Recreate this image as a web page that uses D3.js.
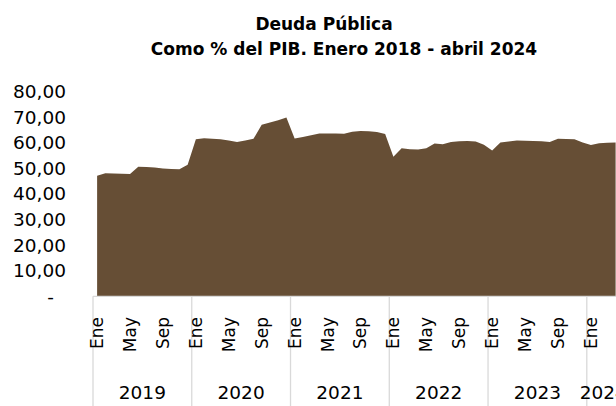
<!DOCTYPE html>
<html>
<head>
<meta charset="utf-8">
<script src="https://cdn.jsdelivr.net/npm/d3@7"></script>
<style>
  body { margin: 0; background: #fff; }
  text { font-family: "DejaVu Sans", sans-serif; fill: #000; }
</style>
</head>
<body>
<div id="chart"></div>
<script>
// data
var years = [2019, 2020, 2021, 2022, 2023, 2024];
var months = ['Ene', 'Feb', 'Mar', 'Abr', 'May', 'Jun', 'Jul', 'Ago', 'Sep', 'Oct', 'Nov', 'Dic'];
var shownMonths = ['Ene', 'May', 'Sep'];
var deuda = [
  47.1, 48.1, 48.0, 47.9, 47.8, 50.7, 50.6, 50.4, 50.0, 49.8, 49.7, 51.4,
  61.4, 61.8, 61.6, 61.4, 60.9, 60.3, 60.9, 61.6, 67.1, 68.0, 68.8, 69.9,
  61.7, 62.3, 63.0, 63.7, 63.7, 63.7, 63.6, 64.3, 64.6, 64.5, 64.2, 63.5,
  54.6, 57.9, 57.5, 57.4, 57.9, 59.7, 59.5, 60.3, 60.6, 60.7, 60.5, 59.3,
  57.0, 60.1, 60.5, 60.9, 60.8, 60.7, 60.6, 60.3, 61.6, 61.5, 61.4, 60.1,
  59.2, 59.8, 60.0, 60.1
];
var yTicks = [0, 10, 20, 30, 40, 50, 60, 70, 80];

var width = 616, height = 406;
var margin = { top: 91.7, left: 93, bottom: 296.3 };
var band = 8.23;

var data = deuda.map(function(v, i) {
  return { i: i, year: years[Math.floor(i / 12)], month: months[i % 12], value: v };
});

var x = d3.scaleBand()
  .domain(data.map(function(d) { return d.i; }))
  .range([margin.left, margin.left + band * data.length])
  .paddingInner(0).paddingOuter(0);

var y = d3.scaleLinear().domain([0, 80]).range([margin.bottom, margin.top]);

var svg = d3.select('#chart')
  .append('svg')
  .attr('width', width)
  .attr('height', height);

// title
svg.append('text')
  .attr('x', 324).attr('y', 30)
  .attr('text-anchor', 'middle')
  .style('font-weight', 'bold').style('font-size', '17px')
  .text('Deuda Pública');
svg.append('text')
  .attr('x', 344).attr('y', 55)
  .attr('text-anchor', 'middle')
  .style('font-weight', 'bold').style('font-size', '17px')
  .text('Como % del PIB. Enero 2018 - abril 2024');

// area
var area = d3.area()
  .x(function(d) { return x(d.i) + x.bandwidth() / 2; })
  .y0(y(0))
  .y1(function(d) { return y(d.value); });

svg.append('path')
  .datum(data)
  .attr('d', area)
  .attr('fill', '#664e35');

// y axis
var yAxis = svg.append('g')
  .attr('transform', 'translate(66,0)')
  .call(d3.axisLeft(y).tickValues(yTicks).tickSize(0).tickPadding(0)
    .tickFormat(function(d) { return d === 0 ? '-' : d3.format('.2f')(d).replace('.', ','); }));
yAxis.select('.domain').remove();
yAxis.selectAll('text')
  .style('font-size', '18.5px')
  .style('font-family', '"DejaVu Sans", sans-serif')
  .attr('dx', function(d) { return d === 0 ? -12 : 0; });

// x axis line and year separators
var grey = '#d9d9d9';
svg.append('line')
  .attr('x1', margin.left).attr('x2', width)
  .attr('y1', y(0)).attr('y2', y(0))
  .attr('stroke', grey).attr('stroke-width', 1.3);

svg.selectAll('.sep')
  .data(years)
  .enter().append('line')
  .attr('class', 'sep')
  .attr('x1', function(yr, k) { return x(k * 12); })
  .attr('x2', function(yr, k) { return x(k * 12); })
  .attr('y1', y(0)).attr('y2', height)
  .attr('stroke', grey).attr('stroke-width', 1.3);

// month labels
svg.selectAll('.mes')
  .data(data.filter(function(d) { return shownMonths.indexOf(d.month) >= 0; }))
  .enter().append('text')
  .attr('class', 'mes')
  .attr('transform', function(d) {
    return 'translate(' + (x(d.i) + x.bandwidth() / 2) + ',317) rotate(-90)';
  })
  .attr('text-anchor', 'end')
  .attr('dy', '0.35em')
  .style('font-size', '17px')
  .text(function(d) { return d.month; });

// year labels
svg.selectAll('.anio')
  .data(years)
  .enter().append('text')
  .attr('class', 'anio')
  .attr('x', function(yr, k) {
    var n = data.filter(function(d) { return d.year === yr; }).length;
    return x(k * 12) + n * band / 2;
  })
  .attr('y', 399)
  .attr('text-anchor', 'middle')
  .style('font-size', '18.5px')
  .text(function(yr) { return yr; });
</script>
</body>
</html>
